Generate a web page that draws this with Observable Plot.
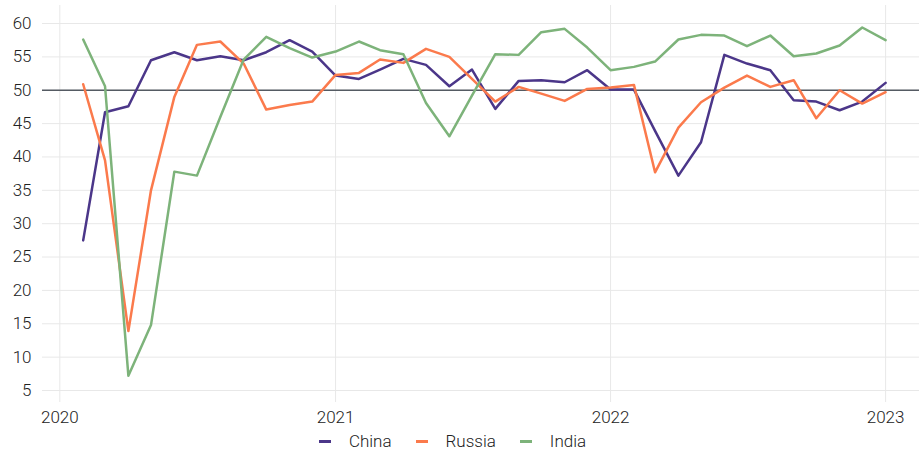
<!DOCTYPE html>
<html>
<head>
<meta charset="utf-8">
<script src="https://cdn.jsdelivr.net/npm/d3@7"></script>
<script src="https://cdn.jsdelivr.net/npm/@observablehq/plot@0.6"></script>
<style>
  body { margin: 0; background: #fff; font-family: Roboto, "Noto Sans", sans-serif; }
  #legend { display: flex; justify-content: center; align-items: center; height: 24px; font-size: 17px; font-weight: 300; color: #222; padding-right: 14px; padding-top: 1px; }
  .item { display: flex; align-items: center; margin: 0 12px; }
  .sw { width: 12px; height: 3px; margin-right: 18px; }
</style>
</head>
<body>
<div id="chart"></div>
<div id="legend"></div>
<script>
const months = d3.utcMonths(new Date(Date.UTC(2020, 1, 1)), new Date(Date.UTC(2023, 1, 1)));
const seriesNames = ["China", "Russia", "India"];
const colors = ["#4b3689", "#fb7a4c", "#7db37a"];
const china = [27.5, 46.7, 47.6, 54.5, 55.7, 54.5, 55.1, 54.5, 55.7, 57.5, 55.8,
  52.2, 51.7, 53.1, 54.7, 53.8, 50.6, 53.1, 47.2, 51.4, 51.5, 51.2, 53.0,
  50.1, 50.1, 43.9, 37.2, 42.2, 55.3, 54.0, 53.0, 48.5, 48.3, 47.0, 48.3,
  51.1];
const russia = [50.9, 39.5, 13.9, 35.0, 49.0, 56.8, 57.3, 54.0, 47.1, 47.8, 48.3,
  52.3, 52.6, 54.6, 54.1, 56.2, 55.0, 51.7, 48.3, 50.5, 49.5, 48.4, 50.2,
  50.4, 50.8, 37.7, 44.4, 48.2, 50.4, 52.2, 50.5, 51.5, 45.8, 50.0, 48.0,
  49.7];
const india = [57.6, 50.6, 7.2, 14.8, 37.8, 37.2, 46.0, 54.6, 58.0, 56.3, 54.9,
  55.8, 57.3, 56.0, 55.4, 48.1, 43.1, 49.2, 55.4, 55.3, 58.7, 59.2, 56.4,
  53.0, 53.5, 54.3, 57.6, 58.3, 58.2, 56.6, 58.2, 55.1, 55.5, 56.7, 59.4,
  57.5];
const yTicks = [5, 10, 15, 20, 25, 30, 35, 40, 45, 50, 55, 60];
const xTicks = [2020, 2021, 2022, 2023].map(y => new Date(Date.UTC(y, 0, 1)));
const xTickLabels = ["2020", "2021", "2022", "2023"];

const values = [china, russia, india];
const data = [];
seriesNames.forEach((name, s) => values[s].forEach((v, i) => data.push({date: months[i], value: v, country: name})));

const chart = Plot.plot({
  width: 919,
  height: 428,
  marginLeft: 42,
  marginRight: 0,
  marginTop: 5,
  marginBottom: 26,
  style: {fontFamily: "Roboto, sans-serif", fontSize: "17px", fontWeight: 300, color: "#222"},
  x: {type: "utc", domain: [new Date(Date.UTC(2019, 11, 9)), new Date(Date.UTC(2023, 1, 15))], axis: null},
  y: {domain: [3.2, 62.7], axis: null},
  color: {domain: seriesNames, range: colors},
  marks: [
    Plot.gridY(yTicks, {stroke: "#e8e8e8", strokeOpacity: 1, strokeWidth: 1}),
    Plot.gridX(xTicks, {stroke: "#e8e8e8", strokeOpacity: 1, strokeWidth: 1}),
    Plot.axisY(yTicks, {tickSize: 0, tickPadding: 11, fontSize: 17, fontWeight: 300, label: null}),
    Plot.axisX(xTicks, {tickSize: 0, tickPadding: 8, tickFormat: (d, i) => xTickLabels[i], fontSize: 17, fontWeight: 300, label: null}),
    Plot.ruleY([50], {stroke: "#555b63", strokeWidth: 1.6}),
    Plot.line(data, {x: "date", y: "value", z: "country", stroke: "country", strokeWidth: 2.5, curve: "linear"})
  ]
});
document.getElementById("chart").appendChild(chart);

const legend = document.getElementById("legend");
seriesNames.forEach((name, i) => {
  const it = document.createElement("div");
  it.className = "item";
  const sw = document.createElement("span");
  sw.className = "sw";
  sw.style.background = colors[i];
  const t = document.createElement("span");
  t.textContent = name;
  it.appendChild(sw); it.appendChild(t);
  legend.appendChild(it);
});
</script>
</body>
</html>
